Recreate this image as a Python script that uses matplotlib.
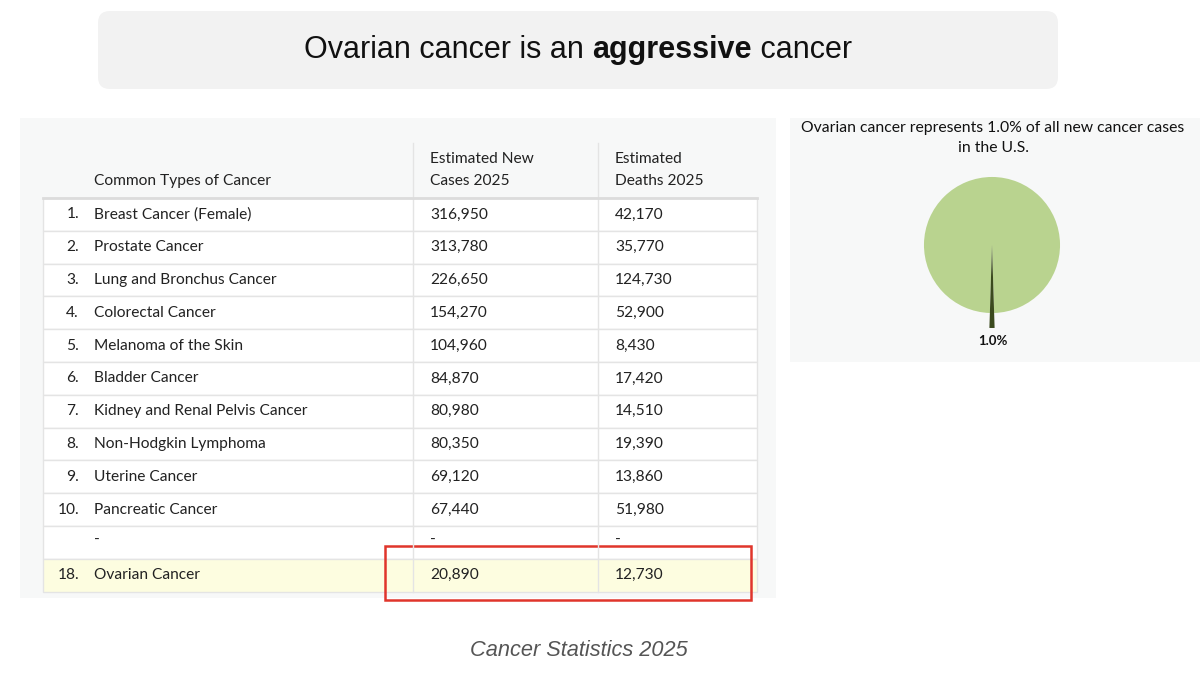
import matplotlib.pyplot as plt
from matplotlib.patches import FancyBboxPatch, Rectangle

ranks = ["1.", "2.", "3.", "4.", "5.", "6.", "7.", "8.", "9.", "10.", "", "18."]
cancers = ["Breast Cancer (Female)", "Prostate Cancer", "Lung and Bronchus Cancer",
           "Colorectal Cancer", "Melanoma of the Skin", "Bladder Cancer",
           "Kidney and Renal Pelvis Cancer", "Non-Hodgkin Lymphoma", "Uterine Cancer",
           "Pancreatic Cancer", "-", "Ovarian Cancer"]
new_cases = ["316,950", "313,780", "226,650", "154,270", "104,960", "84,870",
             "80,980", "80,350", "69,120", "67,440", "-", "20,890"]
deaths = ["42,170", "35,770", "124,730", "52,900", "8,430", "17,420",
          "14,510", "19,390", "13,860", "51,980", "-", "12,730"]
headers = ["Common Types of Cancer", "Estimated New\nCases 2025", "Estimated\nDeaths 2025"]
pie_share = [1.0, 99.0]

tfont = "Lato"
fs = 11.2
fig = plt.figure(figsize=(12, 6.75), dpi=100)
ax = fig.add_axes([0, 0, 1, 1])
ax.set_xlim(0, 1200)
ax.set_ylim(675, 0)
ax.axis("off")

# title box
ax.add_patch(FancyBboxPatch((98, 11), 960, 78, boxstyle="round,pad=0,rounding_size=12",
                            fc="#f2f2f2", ec="none"))
fig.canvas.draw()
r = fig.canvas.get_renderer()
parts = [("Ovarian cancer is an ", "normal"), ("aggressive", "bold"), (" cancer", "normal")]
texts = []
for s, w in parts:
    texts.append(ax.text(0, 50, s, fontsize=22, fontweight=w, family="Liberation Sans",
                         va="center", ha="left", color="#111111"))
widths = [t.get_window_extent(r).width for t in texts]
x = 578 - sum(widths) / 2
for t, wd in zip(texts, widths):
    t.set_x(x)
    x += wd

# table panel
ax.add_patch(Rectangle((20, 118), 756, 480, fc="#f7f8f8", ec="none"))
row_top = 198
row_h = 32.8
n = len(cancers)
for i in range(n):
    y0 = row_top + i * row_h
    fc = "#fdfde0" if ranks[i] == "18." else "white"
    ax.add_patch(Rectangle((43, y0), 714, row_h, fc=fc, ec="#e4e4e4", lw=1))
    yc = y0 + row_h / 2
    dy = -3 if cancers[i] == "-" else 0
    ax.text(79, yc, ranks[i], ha="right", va="center", fontsize=fs, family=tfont, color="#222222")
    ax.text(94, yc + dy, cancers[i], ha="left", va="center", fontsize=fs, family=tfont, color="#222222")
    ax.text(430, yc + dy, new_cases[i], ha="left", va="center", fontsize=fs, family=tfont, color="#222222")
    ax.text(615, yc + dy, deaths[i], ha="left", va="center", fontsize=fs, family=tfont, color="#222222")
for xv in (413, 598):
    ax.plot([xv, xv], [143, row_top + n * row_h], color="#e4e4e4", lw=1)
ax.plot([43, 757], [row_top, row_top], color="#dcdcdc", lw=2)
ax.text(94, 181, headers[0], ha="left", va="center", fontsize=fs, family=tfont, color="#222222")
ax.text(430, 170, headers[1], ha="left", va="center", fontsize=fs, family=tfont,
        color="#222222", linespacing=1.8)
ax.text(615, 170, headers[2], ha="left", va="center", fontsize=fs, family=tfont,
        color="#222222", linespacing=1.8)

# highlight box
ax.add_patch(Rectangle((385, 546), 366, 54, fc="none", ec="#e0352b", lw=1.8))

# pie panel
ax.add_patch(Rectangle((790, 118), 410, 244, fc="#f7f8f8", ec="none"))
ax.text(993, 128, "Ovarian cancer represents 1.0% of all new cancer cases", ha="center",
        va="center", fontsize=11.3, family=tfont, color="#111111")
ax.text(993, 148, "in the U.S.", ha="center", va="center", fontsize=11.3, family=tfont, color="#111111")
ax.text(993, 341, "1.0%", ha="center", va="center", fontsize=9.5, fontweight="bold",
        family=tfont, color="#111111")

pax = fig.add_axes([(992 - 100) / 1200, 1 - (245 + 100) / 675, 200 / 1200, 200 / 675])
wedges, _ = pax.pie(pie_share, colors=["#3b4a1e", "#b9d38f"],
                    startangle=-90 - pie_share[0] * 1.8, counterclock=True,
                    wedgeprops=dict(linewidth=0))
wedges[0].set_radius(1.22)
wedges[0].set_zorder(3)
pax.set_xlim(-1.47, 1.47)
pax.set_ylim(-1.47, 1.47)
pax.set_aspect("equal")
pax.axis("off")

# caption
ax.text(579, 651, "Cancer Statistics 2025", ha="center", va="center", fontsize=15.7,
        style="italic", family="Liberation Sans", color="#555555")

fig.savefig("out.png", dpi=100)
